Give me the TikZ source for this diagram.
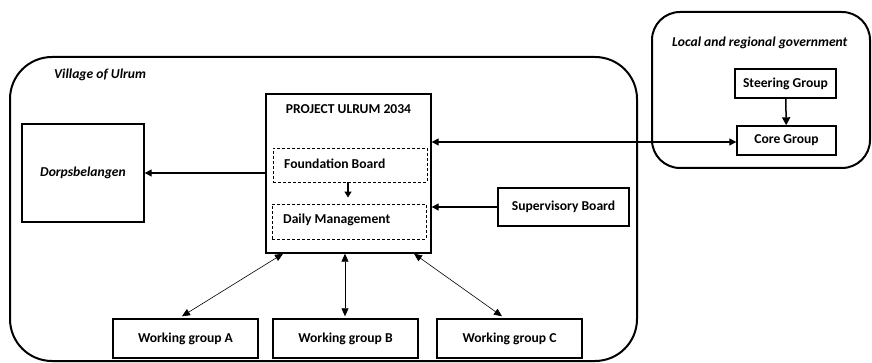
\documentclass[tikz,border=0pt]{standalone}
\usepackage{fontspec}
\setmainfont{Carlito}
\usetikzlibrary{arrows.meta,calc}
\begin{document}
\begin{tikzpicture}[x=1pt,y=-1pt,
  box/.style={draw,line width=1.4pt,inner sep=0pt,font=\bfseries\fontsize{13.6}{16}\selectfont},
  dbox/.style={draw,dashed,dash pattern=on 3pt off 2pt,line width=0.9pt,inner sep=0pt},
  lbl/.style={font=\bfseries\fontsize{13.6}{16}\selectfont,inner sep=0pt},
  ilbl/.style={font=\bfseries\itshape\fontsize{13.6}{16}\selectfont,inner sep=0pt},
  frame/.style={draw,line width=2pt},
  arr/.style={line width=1.3pt,-{Triangle[length=7pt,width=7pt]}},
  darr/.style={line width=1.2pt,{Triangle[length=7pt,width=7pt]}-{Triangle[length=7pt,width=7pt]}},
  tarr/.style={line width=0.6pt,{Triangle[length=8pt,width=7pt]}-{Triangle[length=8pt,width=7pt]}}
]
\useasboundingbox (0,0) rectangle (872,363);
% frames
\draw[frame,rounded corners=42pt] (10,57) rectangle (637,361);
\draw[frame,rounded corners=28pt] (652,12) rectangle (870,168);
\node[ilbl,anchor=west] (vlab) at (54,75) {Village of Ulrum};
\node[ilbl,anchor=west] (glab) at (672,43) {Local and regional government};
% government
\node[box,minimum width=101pt,minimum height=29pt] (steer) at (785.5,83.5) {Steering Group};
\node[box,minimum width=99pt,minimum height=29pt] (core) at (786.5,140.5) {Core Group};
\draw[line width=1.5pt,-{Triangle[length=8pt,width=8pt]}] (steer) -- (core);
% project
\node[box,minimum width=165pt,minimum height=159pt] (proj) at (348.5,173.5) {};
\node[lbl] (ptitle) at (348.5,109) {PROJECT ULRUM 2034};
\node[dbox,minimum width=154pt,minimum height=34pt] (fb) at (350,165) {};
\node[lbl,anchor=west] (fbt) at (284,164) {Foundation Board};
\node[dbox,minimum width=154pt,minimum height=35pt] (dm) at (349,221.5) {};
\node[lbl,anchor=west] (dmt) at (283,220) {Daily Management};
\draw[line width=1.3pt,-{Triangle[length=6pt,width=7pt]}] (fb.south -| 348,0) -- ($(dm.north -| 348,0)+(0,-6)$);
% dorpsbelangen
\node[box,minimum width=122pt,minimum height=98pt] (dorp) at (83,173) {};
\node[ilbl] (dorpt) at (83,173) {Dorpsbelangen};
\draw[arr] (proj.west |- dorp) -- (dorp.east);
% supervisory
\node[box,minimum width=131pt,minimum height=38pt] (sup) at (563.5,207) {Supervisory Board};
\draw[arr] (sup.west) -- (sup.west -| proj.east);
% core link
\draw[darr] (proj.east |- 0,142) -- (core.west |- 0,142);
% working groups
\node[box,minimum width=145pt,minimum height=39pt] (wa) at (185.5,338.5) {Working group A};
\node[box,minimum width=145pt,minimum height=39pt] (wb) at (345.5,338.5) {Working group B};
\node[box,minimum width=145pt,minimum height=39pt] (wc) at (509.5,338.5) {Working group C};
\draw[tarr] ($(proj.south)+(-65.5,0)$) -- ($(wa.north)+(-3.5,-2)$);
\draw[tarr] ($(proj.south)+(-3.5,0)$) -- ($(wb.north)+(-0.5,-2)$);
\draw[tarr] ($(proj.south)+(65.5,0)$) -- ($(wc.north)+(-7.5,-2)$);
\end{tikzpicture}
\end{document}
